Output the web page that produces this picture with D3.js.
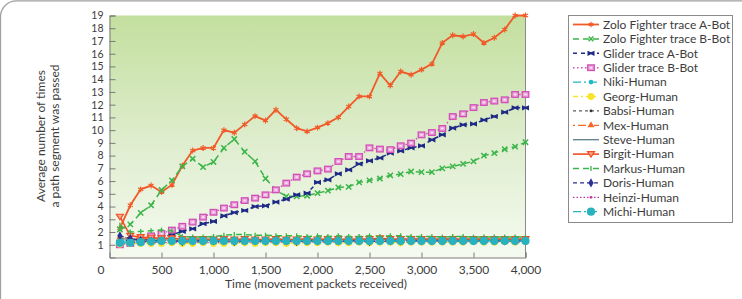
<!DOCTYPE html>
<html>
<head>
<meta charset="utf-8">
<script src="https://cdn.jsdelivr.net/npm/d3@7"></script>
<style>
    body { margin: 0; background: #fff; }
    #chart { width: 742px; height: 299px; }
    text { font-family: Lato, "Open Sans", sans-serif; fill: #3c3c3c; }
</style>
</head>
<body>
<div id="chart"></div>
<script>
// time axis (movement packets received)
const packets = [100, 200, 300, 400, 500, 600, 700, 800, 900, 1000,
    1100, 1200, 1300, 1400, 1500, 1600, 1700, 1800, 1900, 2000,
    2100, 2200, 2300, 2400, 2500, 2600, 2700, 2800, 2900, 3000,
    3100, 3200, 3300, 3400, 3500, 3600, 3700, 3800, 3900, 4000];

const seriesNames = ["Zolo Fighter trace A-Bot", "Zolo Fighter trace B-Bot", "Glider trace A-Bot", "Glider trace B-Bot",
    "Niki-Human", "Georg-Human", "Babsi-Human", "Mex-Human", "Steve-Human", "Birgit-Human",
    "Markus-Human", "Doris-Human", "Heinzi-Human", "Michi-Human"];

const zoloA = [2.3, 4.1, 5.35, 5.65, 5.15, 5.7, 7.2, 8.4, 8.6, 8.6,
    10.0, 9.8, 10.45, 11.1, 10.75, 11.6, 10.85, 10.15, 9.9, 10.2,
    10.55, 11.0, 11.85, 12.65, 12.65, 14.45, 13.5, 14.6, 14.35, 14.75,
    15.2, 16.85, 17.45, 17.35, 17.55, 16.85, 17.25, 17.9, 19.0, 19.0];
const zoloB = [2.2, 2.6, 3.5, 4.1, 5.3, 6.05, 7.15, 7.75, 7.1, 7.5,
    8.6, 9.3, 8.3, 7.55, 6.2, 5.3, 4.8, 4.8, 4.85, 5.05,
    5.25, 5.5, 5.55, 5.9, 6.05, 6.2, 6.45, 6.55, 6.75, 6.7,
    6.7, 7.0, 7.15, 7.35, 7.55, 8.0, 8.2, 8.5, 8.7, 9.05];
const gliderA = [1.2, 1.3, 1.35, 1.45, 1.6, 1.8, 2.05, 2.25, 2.65, 2.83,
    3.27, 3.53, 3.69, 4.0, 4.06, 4.35, 4.58, 4.92, 5.05, 5.9,
    6.1, 6.57, 6.88, 7.35, 7.59, 7.82, 8.2, 8.37, 8.61, 8.77,
    9.24, 9.63, 10.16, 10.42, 10.49, 10.8, 11.07, 11.41, 11.75, 11.75];
const gliderB = [1.0, 1.1, 1.3, 1.7, 1.88, 2.15, 2.45, 2.78, 3.17, 3.55,
    3.88, 4.14, 4.47, 4.66, 4.92, 5.31, 5.84, 6.31, 6.57, 6.8,
    6.94, 7.54, 7.93, 7.93, 8.61, 8.51, 8.47, 8.77, 8.98, 9.63,
    9.81, 10.13, 11.07, 11.28, 11.77, 12.17, 12.28, 12.38, 12.8, 12.8];
const niki = [1.3, 1.25, 1.3, 1.3, 1.35, 1.3, 1.3, 1.35, 1.3, 1.3,
    1.35, 1.3, 1.35, 1.3, 1.3, 1.35, 1.3, 1.3, 1.3, 1.35,
    1.3, 1.3, 1.35, 1.3, 1.3, 1.3, 1.35, 1.3, 1.3, 1.3,
    1.35, 1.3, 1.3, 1.3, 1.3, 1.35, 1.3, 1.3, 1.3, 1.35];
const georg = [1.05, 1.1, 1.1, 1.1, 1.1, 1.15, 1.1, 1.1, 1.15, 1.1,
    1.1, 1.15, 1.15, 1.1, 1.15, 1.15, 1.1, 1.15, 1.15, 1.15,
    1.2, 1.15, 1.15, 1.2, 1.15, 1.2, 1.2, 1.15, 1.2, 1.2,
    1.2, 1.2, 1.2, 1.2, 1.25, 1.2, 1.2, 1.25, 1.2, 1.25];
const babsi = [1.4, 1.3, 1.25, 1.25, 1.2, 1.25, 1.25, 1.2, 1.25, 1.25,
    1.25, 1.3, 1.25, 1.25, 1.3, 1.25, 1.25, 1.3, 1.25, 1.3,
    1.3, 1.25, 1.3, 1.3, 1.3, 1.25, 1.3, 1.3, 1.3, 1.3,
    1.3, 1.3, 1.35, 1.3, 1.3, 1.3, 1.35, 1.3, 1.3, 1.35];
const mex = [1.6, 1.5, 1.5, 1.45, 1.45, 1.5, 1.45, 1.45, 1.4, 1.45,
    1.45, 1.4, 1.45, 1.45, 1.4, 1.45, 1.4, 1.45, 1.45, 1.4,
    1.45, 1.45, 1.4, 1.45, 1.45, 1.45, 1.4, 1.45, 1.45, 1.45,
    1.4, 1.45, 1.45, 1.45, 1.4, 1.45, 1.45, 1.45, 1.45, 1.45];
const steve = [1.5, 1.4, 1.35, 1.35, 1.4, 1.35, 1.35, 1.4, 1.35, 1.35,
    1.4, 1.35, 1.4, 1.35, 1.4, 1.4, 1.35, 1.4, 1.4, 1.35,
    1.4, 1.4, 1.4, 1.35, 1.4, 1.4, 1.4, 1.4, 1.35, 1.4,
    1.4, 1.4, 1.4, 1.4, 1.4, 1.35, 1.4, 1.4, 1.4, 1.4];
const birgit = [3.2, 1.7, 1.6, 1.55, 1.5, 1.5, 1.45, 1.45, 1.45, 1.4,
    1.45, 1.4, 1.45, 1.4, 1.4, 1.45, 1.4, 1.4, 1.45, 1.4,
    1.45, 1.45, 1.4, 1.45, 1.45, 1.5, 1.45, 1.45, 1.45, 1.45,
    1.45, 1.45, 1.45, 1.45, 1.45, 1.45, 1.45, 1.45, 1.45, 1.45];
const markus = [2.55, 2.0, 2.05, 2.1, 2.15, 2.1, 1.65, 1.6, 1.6, 1.65,
    1.75, 1.8, 1.8, 1.75, 1.75, 1.7, 1.7, 1.7, 1.65, 1.7,
    1.65, 1.7, 1.65, 1.65, 1.7, 1.65, 1.7, 1.7, 1.65, 1.65,
    1.65, 1.6, 1.65, 1.65, 1.6, 1.6, 1.6, 1.6, 1.6, 1.6];
const doris = [1.7, 1.5, 1.35, 1.3, 1.3, 1.3, 1.25, 1.3, 1.3, 1.3,
    1.3, 1.25, 1.3, 1.3, 1.3, 1.3, 1.3, 1.25, 1.3, 1.3,
    1.3, 1.3, 1.3, 1.3, 1.25, 1.3, 1.3, 1.3, 1.3, 1.3,
    1.3, 1.3, 1.3, 1.3, 1.3, 1.3, 1.3, 1.3, 1.3, 1.3];
const heinzi = [1.1, 1.15, 1.2, 1.2, 1.15, 1.2, 1.2, 1.2, 1.2, 1.15,
    1.2, 1.2, 1.2, 1.2, 1.2, 1.2, 1.2, 1.25, 1.2, 1.2,
    1.2, 1.2, 1.25, 1.2, 1.2, 1.2, 1.25, 1.2, 1.2, 1.25,
    1.2, 1.2, 1.25, 1.2, 1.25, 1.2, 1.25, 1.25, 1.2, 1.25];
const michi = [1.15, 1.15, 1.2, 1.25, 1.3, 1.3, 1.3, 1.3, 1.3, 1.3,
    1.3, 1.3, 1.3, 1.3, 1.3, 1.3, 1.3, 1.3, 1.3, 1.3,
    1.3, 1.3, 1.3, 1.3, 1.3, 1.3, 1.3, 1.3, 1.3, 1.3,
    1.3, 1.3, 1.3, 1.3, 1.3, 1.3, 1.3, 1.3, 1.3, 1.3];

const seriesValues = [zoloA, zoloB, gliderA, gliderB, niki, georg, babsi, mex, steve, birgit, markus, doris, heinzi, michi];

const xTicks = [0, 500, 1000, 1500, 2000, 2500, 3000, 3500, 4000];
const yTicks = [1, 2, 3, 4, 5, 6, 7, 8, 9, 10, 11, 12, 13, 14, 15, 16, 17, 18, 19];

class PathPassChart {
    constructor(parentElement) {
        this.parentElement = parentElement;
        this.initVis();
    }

    initVis() {
        let vis = this;

        vis.width = 742;
        vis.height = 299;
        vis.plot = {left: 109.5, right: 525.5, top: 15.5, bottom: 257.5};

        vis.svg = d3.select("#" + vis.parentElement).append("svg")
            .attr("width", vis.width)
            .attr("height", vis.height);

        // outer rounded frame (only the top/left part is in view)
        vis.svg.append("rect")
            .attr("x", 0.5).attr("y", 0.8)
            .attr("width", 800).attr("height", 400)
            .attr("rx", 16)
            .attr("fill", "none")
            .attr("stroke", "#a0a0a0")
            .attr("stroke-width", 1.3);

        let grad = vis.svg.append("defs").append("linearGradient")
            .attr("id", "bg").attr("x1", 0).attr("y1", 0).attr("x2", 0).attr("y2", 1);
        grad.append("stop").attr("offset", "0%").attr("stop-color", "#c3df9e");
        grad.append("stop").attr("offset", "55%").attr("stop-color", "#e0eed0");
        grad.append("stop").attr("offset", "100%").attr("stop-color", "#f5faf0");

        vis.x = d3.scaleLinear().domain([0, 4000]).range([vis.plot.left, vis.plot.right]);
        vis.y = d3.scaleLinear().domain([0, 19]).range([vis.plot.bottom, vis.plot.top]);

        vis.svg.append("rect")
            .attr("x", vis.plot.left).attr("y", vis.plot.top)
            .attr("width", vis.plot.right - vis.plot.left)
            .attr("height", vis.plot.bottom - vis.plot.top)
            .attr("fill", "url(#bg)");

        // right edge of plot
        vis.svg.append("line")
            .attr("x1", vis.plot.right).attr("x2", vis.plot.right)
            .attr("y1", vis.plot.top).attr("y2", vis.plot.bottom)
            .attr("stroke", "#8a8a8a");

        // axes, ticks pointing inwards
        let xAxis = vis.svg.append("g")
            .attr("transform", `translate(0, ${vis.plot.bottom})`)
            .call(d3.axisBottom(vis.x).tickValues(xTicks).tickSize(-5).tickPadding(8).tickFormat(d3.format(",")));
        let yAxis = vis.svg.append("g")
            .attr("transform", `translate(${vis.plot.left}, 0)`)
            .call(d3.axisLeft(vis.y).tickValues(yTicks).tickSize(-6).tickPadding(6));

        [xAxis, yAxis].forEach(ax => {
            ax.select(".domain").attr("stroke", "#7a7a7a");
            ax.selectAll(".tick line").attr("stroke", "#7a7a7a");
            ax.selectAll(".tick text").attr("font-family", null).attr("fill", "#3c3c3c");
        });
        xAxis.selectAll(".tick text").attr("font-size", 12);
        yAxis.selectAll(".tick text").attr("font-size", 10.5);
        // the zero label sits left of the corner
        xAxis.selectAll(".tick").filter(d => d === 0).select("line").remove();
        xAxis.selectAll(".tick").filter(d => d === 0).select("text").attr("x", -9);

        vis.svg.append("text")
            .attr("x", 316).attr("y", 288)
            .attr("text-anchor", "middle")
            .attr("font-size", 12)
            .text("Time (movement packets received)");

        let yTitle = vis.svg.append("text")
            .attr("transform", "translate(45, 136) rotate(-90)")
            .attr("text-anchor", "middle")
            .attr("font-size", 12);
        yTitle.append("tspan").attr("x", 0).attr("y", 0).text("Average number of times");
        yTitle.append("tspan").attr("x", 0).attr("y", 14).text("a path segment was passed");

        vis.styles = [
            {color: "#f15a29", dash: null, width: 1.8, marker: "asterisk"},
            {color: "#3bb54a", dash: "6,4", width: 1.5, marker: "times"},
            {color: "#1e2a86", dash: "4,4", width: 1.5, marker: "bowtie"},
            {color: "#d24fb6", dash: "1.5,2.5", width: 1.4, marker: "square"},
            {color: "#22b8c8", dash: "8,3,2,3", width: 1.3, marker: "dot"},
            {color: "#f5e52c", dash: "5,3,2,3", width: 1.3, marker: "circle"},
            {color: "#333333", dash: "3,3", width: 1.0, marker: "tiny"},
            {color: "#f36a2b", dash: "2,3,8,3", width: 1.3, marker: "triangle"},
            {color: "#5d7e8c", dash: null, width: 1.3, marker: null},
            {color: "#f04e23", dash: null, width: 1.6, marker: "arrow"},
            {color: "#3bb54a", dash: "6,4", width: 1.5, marker: "tick"},
            {color: "#2b2f8f", dash: "4,3", width: 1.3, marker: "diamond"},
            {color: "#c43aa3", dash: "1.5,2", width: 1.3, marker: "tiny"},
            {color: "#27b2bd", dash: "8,3,2,3", width: 1.3, marker: "bigcircle"}
        ];

        vis.wrangleData();
    }

    wrangleData() {
        let vis = this;

        vis.displayData = seriesNames.map((name, i) => ({
            name: name,
            style: vis.styles[i],
            values: packets.map((p, j) => ({x: p, y: seriesValues[i][j]}))
        }));

        vis.updateVis();
    }

    drawMarker(sel, style, size) {
        let c = style.color;
        let k = size || 1;
        switch (style.marker) {
            case "asterisk":
                sel.append("path").attr("d", d3.symbol(d3.symbolAsterisk, 24 * k)).attr("stroke", c).attr("stroke-width", 1.2).attr("fill", "none");
                break;
            case "times":
                sel.append("path").attr("d", d3.symbol(d3.symbolTimes, 20 * k)).attr("stroke", c).attr("stroke-width", 1.5).attr("fill", "none");
                break;
            case "bowtie":
                sel.append("path").attr("d", "M-3.5,-2.6L0,-1L3.5,-2.6V2.6L0,1L-3.5,2.6Z").attr("fill", c);
                break;
            case "square":
                sel.append("rect").attr("x", -3.3).attr("y", -2.8).attr("width", 6.6).attr("height", 5.6)
                    .attr("fill", "#eaa6dc").attr("stroke", c).attr("stroke-width", 1.3);
                sel.append("rect").attr("x", -1.2).attr("y", -0.8).attr("width", 2.4).attr("height", 1.6)
                    .attr("fill", "#fbe6f6");
                break;
            case "dot":
                sel.append("circle").attr("r", 2.4).attr("fill", c);
                break;
            case "circle":
                sel.append("circle").attr("r", 3.4).attr("fill", c);
                break;
            case "tiny":
                sel.append("circle").attr("r", 1.4).attr("fill", c);
                break;
            case "triangle":
                sel.append("path").attr("d", d3.symbol(d3.symbolTriangle, 22)).attr("fill", c);
                break;
            case "arrow":
                sel.append("path").attr("d", "M-3.5,-2.5L3.5,-2.5L0,3Z").attr("fill", "#f7a58a").attr("stroke", c).attr("stroke-width", 1.2);
                break;
            case "tick":
                sel.append("path").attr("d", "M0,-2.5V2.5").attr("stroke", c).attr("stroke-width", 1.3);
                break;
            case "diamond":
                sel.append("path").attr("d", d3.symbol(d3.symbolDiamond, 24)).attr("fill", c);
                break;
            case "bigcircle":
                sel.append("circle").attr("r", 4.1).attr("fill", c);
                break;
        }
    }

    updateVis() {
        let vis = this;

        let line = d3.line().x(d => vis.x(d.x)).y(d => vis.y(d.y));

        let groups = vis.svg.selectAll(".series")
            .data(vis.displayData)
            .enter().append("g")
            .attr("class", "series");

        groups.append("path")
            .attr("d", d => line(d.values))
            .attr("fill", "none")
            .attr("stroke", d => d.style.color)
            .attr("stroke-width", d => d.style.width)
            .attr("stroke-dasharray", d => d.style.dash);

        groups.each(function (d) {
            let g = d3.select(this);
            d.values.forEach(v => {
                let m = g.append("g").attr("transform", `translate(${vis.x(v.x)}, ${vis.y(v.y)})`);
                vis.drawMarker(m, d.style);
            });
        });

        // legend
        let lg = vis.svg.append("g");
        lg.append("rect")
            .attr("x", 568.5).attr("y", 15.5)
            .attr("width", 164).attr("height", 207)
            .attr("fill", "#fff")
            .attr("stroke", "#8a8a8a");

        let items = lg.selectAll(".item")
            .data(vis.displayData)
            .enter().append("g")
            .attr("class", "item")
            .attr("transform", (d, i) => `translate(0, ${24.5 + i * 14.4})`);

        items.append("line")
            .attr("x1", 573).attr("x2", 599)
            .attr("stroke", d => d.style.color)
            .attr("stroke-width", d => d.style.width)
            .attr("stroke-dasharray", d => d.style.dash);

        items.each(function (d) {
            let m = d3.select(this).append("g").attr("transform", "translate(591, 0)");
            vis.drawMarker(m, d.style, 0.8);
        });

        items.append("text")
            .attr("x", 603).attr("y", 0)
            .attr("dy", "0.35em")
            .attr("font-size", 12)
            .text(d => d.name);
    }
}

new PathPassChart("chart");
</script>
</body>
</html>
